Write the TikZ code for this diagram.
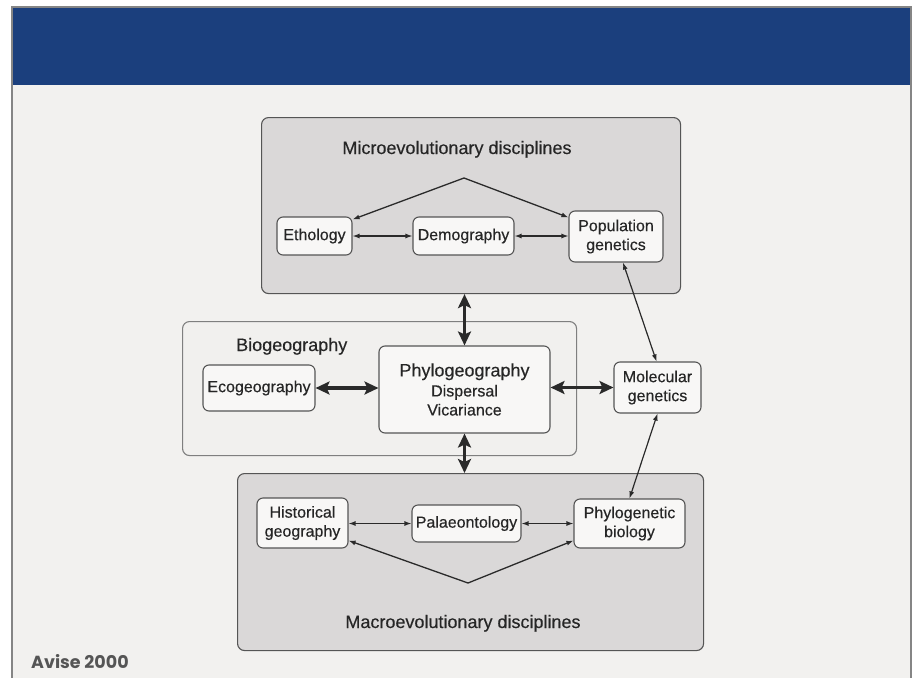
\documentclass[tikz,border=0pt]{standalone}
\usepackage{fontspec}
\setmainfont{Liberation Sans}[FakeBold=0.5]
\newfontfamily\diagfont{Liberation Sans}[FakeBold=0.35]
\newfontfamily\avisefont{Poppins}
\usetikzlibrary{arrows.meta,calc}
\definecolor{bgc}{HTML}{F2F1EF}
\definecolor{bluec}{HTML}{1B3F7D}
\definecolor{framec}{HTML}{858585}
\definecolor{bigfill}{HTML}{DAD8D8}
\definecolor{biofill}{HTML}{F1F0EE}
\definecolor{nodefill}{HTML}{F8F7F6}
\definecolor{linec}{HTML}{2A2A2A}
\definecolor{txtc}{HTML}{262626}
\definecolor{avisec}{HTML}{555555}
\tikzset{
  bigbox/.style={draw=linec!80, fill=bigfill, line width=1.1pt, rounded corners=7pt},
  biobox/.style={draw=linec!60, fill=biofill, line width=1.1pt, rounded corners=7pt},
  disc/.style={draw=linec!80, fill=nodefill, line width=1.1pt, rounded corners=6pt,
    inner sep=0pt, align=center, text=txtc, font=\diagfont\fontsize{16}{19}\selectfont},
  heading/.style={text=txtc, font=\diagfont\fontsize{18}{21}\selectfont, inner sep=0pt},
  thin/.style={draw=linec, line width=1.2pt, {Latex[length=7pt,width=5pt]}-{Latex[length=7pt,width=5pt]}},
  thinone/.style={draw=linec, line width=1.3pt, -{Latex[length=7pt,width=5pt]}},
  thick/.style={draw=linec, line width=3.6pt, {Stealth[length=14pt,width=13pt,inset=3pt]}-{Stealth[length=14pt,width=13pt,inset=3pt]}}
}
\begin{document}
\begin{tikzpicture}[x=1pt,y=-1pt]
\useasboundingbox (0,0) rectangle (917,677);
\fill[white] (0,0) rectangle (917,677);
% slide
\fill[bgc] (12,85) rectangle (911,680);
\fill[bluec] (12,7) rectangle (911,85);
\draw[framec, line width=1.5pt] (12,680) -- (12,7) -- (911,7) -- (911,680);
% big boxes
\node[bigbox, minimum width=419pt, minimum height=176pt, anchor=north west] (micro) at (261,117) {};
\node[biobox, minimum width=394pt, minimum height=134pt, anchor=north west] (bio) at (182,321) {};
\node[bigbox, minimum width=466pt, minimum height=177pt, anchor=north west] (macro) at (237,473) {};
% headings
\node[heading, anchor=base] (microt) at (457,154) {Microevolutionary disciplines};
\node[heading, anchor=base west] (biot) at (236,351) {Biogeography};
\node[heading, anchor=base] (macrot) at (463,628) {Macroevolutionary disciplines};
% discipline nodes
\node[disc, minimum width=75pt, minimum height=38pt] (eth) at (314.5,236) {Ethology};
\node[disc, minimum width=101pt, minimum height=38pt] (dem) at (463.5,236) {Demography};
\node[disc, minimum width=94pt, minimum height=51pt] (pop) at (616,236.5) {Population\\genetics};
\node[disc, minimum width=112pt, minimum height=46pt] (eco) at (259,388) {Ecogeography};
\node[disc, minimum width=171pt, minimum height=87pt] (phy) at (464.5,389.5) {{\fontsize{18}{21}\selectfont Phylogeography}\\[1pt]Dispersal\\Vicariance};
\node[disc, minimum width=87pt, minimum height=51pt] (mol) at (657.5,387.5) {Molecular\\genetics};
\node[disc, minimum width=91pt, minimum height=50pt] (his) at (302.5,523) {Historical\\geography};
\node[disc, minimum width=109pt, minimum height=37pt] (pal) at (466.5,523.5) {Palaeontology};
\node[disc, minimum width=111pt, minimum height=49pt] (phb) at (629.5,523.5) {Phylogenetic\\biology};
% peak and valley
\coordinate (peak) at (464,178);
\coordinate (valley) at (468,583);
\draw[thinone] (peak) -- ($(eth.north east)+(0,3)$);
\draw[thinone] (peak) -- ($(pop.north west)+(0,7)$);
\draw[thinone] (valley) -- ($(his.south east)+(0,-8)$);
\draw[thinone] (valley) -- ($(phb.south west)+(0,-8)$);
% thin double arrows
\draw[thin] (eth.east) -- (dem.west);
\draw[thin] (dem.east) -- (pop.west |- dem.east);
\draw[thin] (his.east |- pal.west) -- (pal.west);
\draw[thin] (pal.east) -- (phb.west |- pal.east);
\draw[thin] ($(pop.south)+(7,0)$) -- ($(mol.north)+(-1,0)$);
\draw[thin] (mol.south) -- (phb.north);
% thick arrows
\draw[thick] (micro.south -| phy.north) -- (phy.north);
\draw[thick] (phy.south) -- (macro.north -| phy.south);
\draw[thick] (eco.east) -- (phy.west |- eco.east);
\draw[thick] (phy.east |- mol.west) -- (mol.west);
% credit
\node[anchor=base west, inner sep=0pt, text=avisec, font=\avisefont\bfseries\fontsize{17.5}{20}\selectfont] (avise) at (31,668) {Avise 2000};
\end{tikzpicture}
\end{document}
